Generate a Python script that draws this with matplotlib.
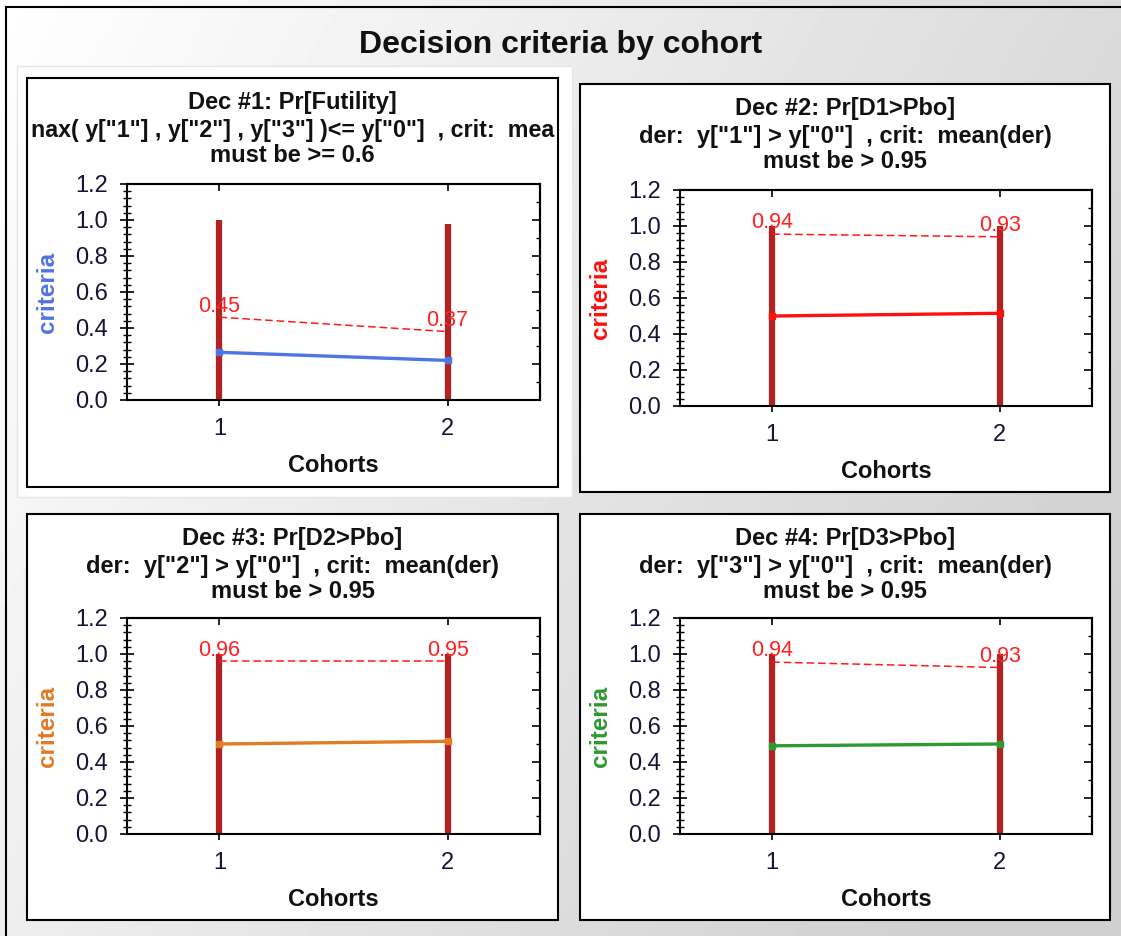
import numpy as np
import matplotlib.pyplot as plt
from matplotlib.patches import Rectangle
from matplotlib.ticker import MultipleLocator

plt.rcParams['font.family'] = ['Liberation Sans', 'DejaVu Sans']

W, H = 1121, 936

# data
cohorts = [1, 2]
titles = ['Dec #1: Pr[Futility]', 'Dec #2: Pr[D1>Pbo]', 'Dec #3: Pr[D2>Pbo]', 'Dec #4: Pr[D3>Pbo]']
# first rule is shown cut off by the panel edge in the original
rules = ['nax( y["1"] , y["2"] , y["3"] )<= y["0"]  , crit:  mea',
         'der:  y["1"] > y["0"]  , crit:  mean(der)',
         'der:  y["2"] > y["0"]  , crit:  mean(der)',
         'der:  y["3"] > y["0"]  , crit:  mean(der)']
thresholds = ['must be >= 0.6', 'must be > 0.95', 'must be > 0.95', 'must be > 0.95']
crit_mean = [[0.265, 0.22], [0.50, 0.515], [0.50, 0.515], [0.49, 0.50]]
crit_upper = [[0.46, 0.38], [0.955, 0.94], [0.96, 0.96], [0.955, 0.925]]
upper_labels = [['0.45', '0.37'], ['0.94', '0.93'], ['0.96', '0.95'], ['0.94', '0.93']]
crit_max = [[1.0, 0.98], [1.0, 1.0], [1.0, 1.0], [1.0, 1.0]]
line_colors = ['#4f74e3', '#ff1010', '#e07b26', '#2e9a30']

# pixel boxes: panel (l, t, r, b), axes (l, t, r, b)
panels = [(27, 78, 558, 487), (580, 84, 1110, 492), (27, 514, 558, 920), (580, 514, 1110, 920)]
axboxes = [(127, 184, 540, 400), (680, 190, 1092, 406), (127, 618, 540, 834), (680, 618, 1092, 834)]


def fx(px):
    return px / W


def fy(py):
    return 1 - py / H


fig = plt.figure(figsize=(W / 100, H / 100), dpi=100)
renderer = fig.canvas.get_renderer()

# gradient background
bg = fig.add_axes([0, 0, 1, 1], zorder=-10)
gx, gy = np.meshgrid(np.linspace(0, 1, 200), np.linspace(0, 1, 200))
grad = 1 - 0.19 * np.clip(0.75 * gx + 0.35 * gy, 0, 1)
bg.imshow(grad, cmap='gray', vmin=0, vmax=1, aspect='auto', extent=[0, 1, 0, 1])
bg.plot([0.005, 0.005], [0, fy(7)], color='black', lw=1.5)
bg.plot([0.005, 1], [fy(7), fy(7)], color='black', lw=1.5)
bg.set_xlim(0, 1)
bg.set_ylim(0, 1)
bg.axis('off')

fig.text(0.5, fy(45), 'Decision criteria by cohort', ha='center', va='center',
         fontsize=23, fontweight='bold', color='#111111')

# selection frame around first panel
fig.patches.append(Rectangle((fx(17), fy(497)), (572 - 17) / W, (497 - 66) / H,
                             transform=fig.transFigure, facecolor='white',
                             edgecolor='#e6e6e6', lw=1, zorder=-5))

for i in range(4):
    pl, pt, pr, pb = panels[i]
    box = Rectangle((fx(pl), fy(pb)), (pr - pl) / W, (pb - pt) / H, transform=fig.transFigure,
                    facecolor='white', edgecolor='black', lw=1.5, zorder=-4)
    fig.patches.append(box)
    cx = fx((pl + pr) / 2)
    fig.text(cx, fy(pt + 25), titles[i], ha='center', va='center', fontsize=17,
             fontweight='bold', color='#111111')
    t2 = fig.text(cx, fy(pt + 53), rules[i], ha='center', va='center', fontsize=17,
                  fontweight='bold', color='#111111')
    # shrink the rule line if it would run past the panel border
    tw = t2.get_window_extent(renderer).width
    if tw > pr - pl - 4:
        t2.set_fontsize(17 * (pr - pl - 4) / tw)
    fig.text(cx, fy(pt + 78), thresholds[i], ha='center', va='center', fontsize=17,
             fontweight='bold', color='#111111')

    al, at, ar, ab = axboxes[i]
    ax = fig.add_axes([fx(al), fy(ab), (ar - al) / W, (ab - at) / H])
    ax.set_facecolor('white')
    ax.vlines(cohorts, 0, crit_max[i], color='#b22222', lw=4.5, zorder=2)
    ax.plot(cohorts, crit_mean[i], color=line_colors[i], lw=2.4, marker='s', ms=5, zorder=3)
    ax.plot(cohorts, crit_upper[i], color='#ff1a1a', lw=1.1, ls=(0, (5, 2.5)), zorder=3)
    for x, y, lab in zip(cohorts, crit_upper[i], upper_labels[i]):
        ax.annotate(lab, (x, y), xytext=(0, 8), textcoords='offset points', ha='center',
                    va='center', fontsize=15.5, color='#ff2020', zorder=4)
    ax.set_xlim(0.595, 2.405)
    ax.set_ylim(0, 1.2)
    ax.set_xticks(cohorts)
    ax.yaxis.set_major_locator(MultipleLocator(0.2))
    ax.yaxis.set_minor_locator(MultipleLocator(0.04))
    ax.yaxis.set_major_formatter(plt.FormatStrFormatter('%.1f'))
    ax.tick_params(axis='y', which='major', direction='inout', length=10, width=1.2,
                   labelsize=17, pad=9, labelcolor='#151535')
    ax.tick_params(axis='y', which='minor', direction='inout', length=6, width=1)
    ax.tick_params(axis='x', which='major', direction='inout', length=8, width=1.2,
                   labelsize=17, pad=9, labelcolor='#151535')
    for s in ax.spines.values():
        s.set_linewidth(1.5)

    sy = ax.secondary_yaxis('right')
    sy.yaxis.set_major_locator(MultipleLocator(0.2))
    sy.yaxis.set_minor_locator(MultipleLocator(0.1))
    sy.tick_params(which='major', direction='in', length=6, width=1.2, labelright=False)
    sy.tick_params(which='minor', direction='in', length=3, width=1)
    sy.spines['right'].set_linewidth(1.5)
    sx = ax.secondary_xaxis('top')
    sx.set_xticks(cohorts)
    sx.tick_params(direction='in', length=5, width=1.2, labeltop=False)
    sx.spines['top'].set_linewidth(1.5)

    ax.set_xlabel('Cohorts', fontsize=17, fontweight='bold', color='#111111')
    ax.xaxis.set_label_coords(0.5, -(54 / (ab - at)))
    ax.set_ylabel('criteria', fontsize=17.5, fontweight='bold', color=line_colors[i])
    ax.yaxis.set_label_coords(-(68 / (ar - al)), 0.5)

fig.savefig('out.png', dpi=100)
